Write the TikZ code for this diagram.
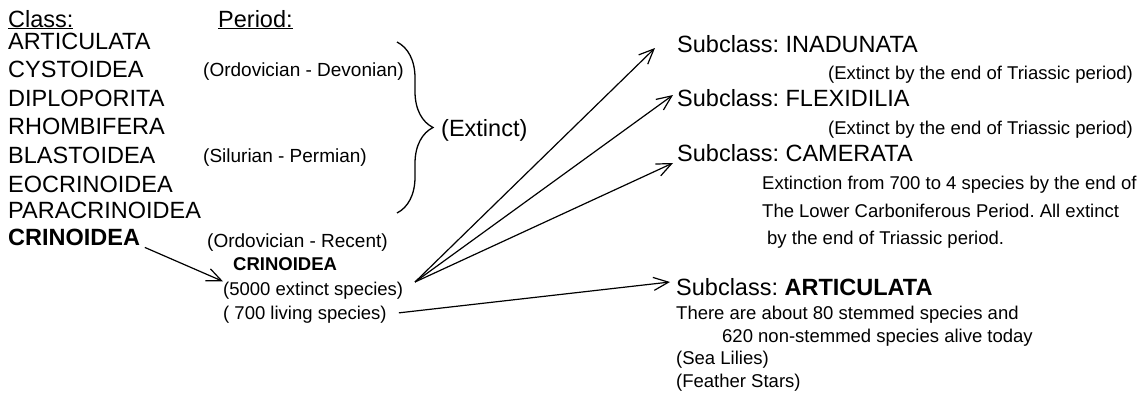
\documentclass[tikz,border=0pt]{standalone}
\usepackage{fontspec}
\setmainfont{Liberation Sans}
\frenchspacing
\usetikzlibrary{arrows.meta,decorations.pathreplacing}
\tikzset{
  big/.style={anchor=base west,inner sep=0pt,font=\fontsize{23.5}{28}\selectfont},
  small/.style={anchor=base west,inner sep=0pt,font=\fontsize{18.5}{22}\selectfont},
  arr/.style={line width=1.2pt,-{Straight Barb[length=15pt,width=13pt]}}
}

\begin{document}
\begin{tikzpicture}[x=1pt,y=-1pt]
  \useasboundingbox (0,0) rectangle (1148,394);
  % headings
  \node[big] (class) at (8,27) {\underline{Class:}};
  \node[big] (period) at (218,27) {\underline{Period:}};
  % classes
  \node[big] (c1) at (8,49) {ARTICULATA};
  \node[big] (c2) at (8,77) {CYSTOIDEA};
  \node[big] (c3) at (8,106) {DIPLOPORITA};
  \node[big] (c4) at (8,134) {RHOMBIFERA};
  \node[big] (c5) at (8,163) {BLASTOIDEA};
  \node[big] (c6) at (8,192) {EOCRINOIDEA};
  \node[big] (c7) at (8,218) {PARACRINOIDEA};
  \node[big] (crin) at (8,245) {\bfseries CRINOIDEA};
  % periods
  \node[small,font=\fontsize{19}{22}\selectfont] (p1) at (203,76) {(Ordovician - Devonian)};
  \node[small,font=\fontsize{19}{22}\selectfont] (p2) at (203,162) {(Silurian - Permian)};
  \node[small,font=\fontsize{19}{22}\selectfont] (p3) at (207,247) {(Ordovician - Recent)};
  % crinoidea species
  \node[small] (crin2) at (233,270) {\bfseries CRINOIDEA};
  \node[small] (sp5000) at (223,295) {(5000 extinct species)};
  \node[small] (sp700) at (223,319) {( 700 living species)};
  % acolada
  \draw[line width=1.3pt,decorate,decoration={brace,amplitude=36pt}] (397,42) -- (397,213);
  \node[big] (ext) at (441,136) {(Extinct)};
  % subclasses
  \node[big] (inad) at (677,52) {Subclass: INADUNATA};
  \node[small] (inadx) at (828,79) {(Extinct by the end of Triassic period)};
  \node[big] (flex) at (677,106) {Subclass: FLEXIDILIA};
  \node[small] (flexx) at (828,134) {(Extinct by the end of Triassic period)};
  \node[big] (cam) at (677,161) {Subclass: CAMERATA};
  \node[small] (cam1) at (762,189) {Extinction from 700 to 4 species by the end of};
  \node[small] (cam2) at (762,217) {The Lower Carboniferous Period. All extinct};
  \node[small] (cam3) at (767,244) {by the end of Triassic period.};
  \node[big] (art) at (676,295) {Subclass: \textbf{ARTICULATA}};
  \node[small] (art1) at (676,319) {There are about 80 stemmed species and};
  \node[small] (art2) at (722,342) {620 non-stemmed species alive today};
  \node[small] (art3) at (676,364) {(Sea Lilies)};
  \node[small] (art4) at (676,387) {(Feather Stars)};
  % arrows
  \coordinate (fan) at (415,282);
  \coordinate (tInad) at (655,48);
  \coordinate (tFlex) at (673,95);
  \coordinate (tCam) at (673,163);
  \coordinate (tArt) at (670,282);
  \draw[arr,shorten <=5pt] (crin.south east) -- (sp5000.north west);
  \draw[arr] (fan) -- (tInad);
  \draw[arr] (fan) -- (tFlex);
  \draw[arr] (fan) -- (tCam);
  \draw[arr,shorten <=12pt] (sp700.east) -- (tArt);
\end{tikzpicture}
\end{document}
